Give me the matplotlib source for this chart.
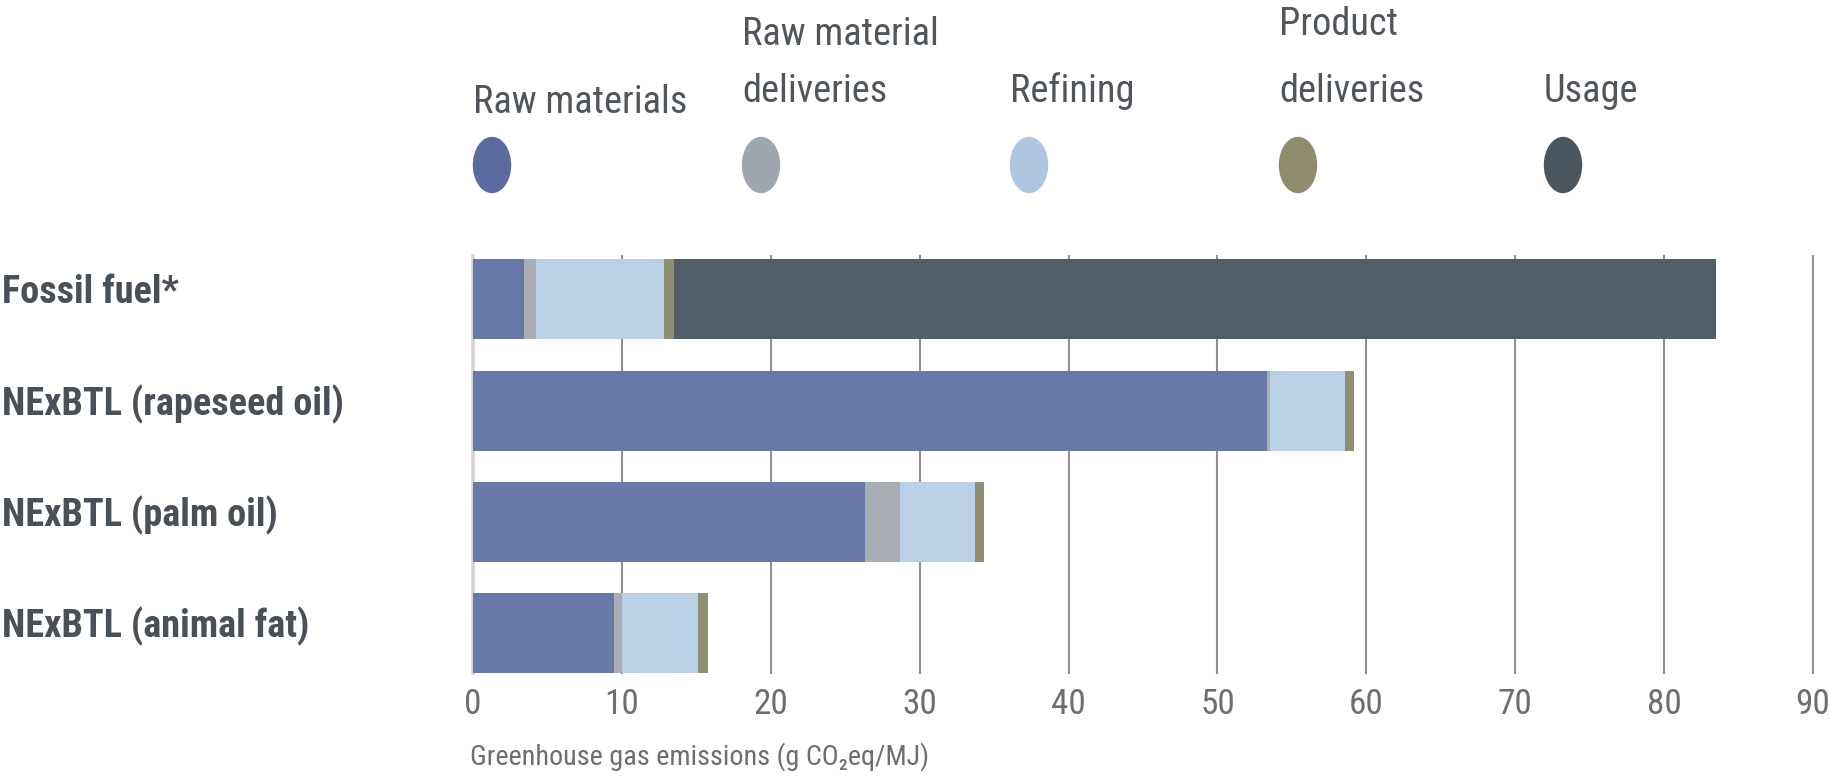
import matplotlib.pyplot as plt
import matplotlib.font_manager as fm
from matplotlib.patches import Ellipse
from matplotlib import transforms

# data (g CO2eq/MJ)
categories = ['Fossil fuel*', 'NExBTL (rapeseed oil)', 'NExBTL (palm oil)', 'NExBTL (animal fat)']
stage_labels = ['Raw materials', 'Raw material\ndeliveries', 'Refining', 'Product\ndeliveries', 'Usage']
raw_materials = [3.4, 53.3, 26.3, 9.5]
raw_material_deliveries = [0.8, 0.2, 2.4, 0.5]
refining = [8.6, 5.1, 5.0, 5.1]
product_deliveries = [0.7, 0.6, 0.6, 0.7]
usage = [70.0, 0.0, 0.0, 0.0]
x_ticks = [0, 10, 20, 30, 40, 50, 60, 70, 80, 90]
x_label = 'Greenhouse gas emissions (g CO\u2082eq/MJ)'

stage_colors = ['#6878a9', '#a8aeb4', '#b9d0e7', '#918f72', '#525e67']
legend_colors = ['#5b6b9f', '#a0a6ad', '#aec6e0', '#8f8c6e', '#4c565f']

# pick a narrow face if one is installed, else Liberation Sans
fonts = fm.fontManager.ttflist
names = {f.name for f in fonts}
stretch = 'normal'
face = 'Liberation Sans'
for cand in ['Liberation Sans Narrow', 'Roboto Condensed', 'Noto Sans Condensed', 'Open Sans Condensed']:
    if cand in names:
        face = cand
        break
else:
    if any(f.name == 'DejaVu Sans' and f.stretch == 'condensed' for f in fonts):
        face, stretch = 'DejaVu Sans', 'condensed'
plt.rcParams['font.family'] = [face, 'DejaVu Sans']
plt.rcParams['font.stretch'] = stretch

W, H = 1831, 779
fig = plt.figure(figsize=(W / 100, H / 100), dpi=100)
fig.patch.set_facecolor('white')
renderer = fig.canvas.get_renderer()


def fit_width(txt, target_px):
    w = txt.get_window_extent(renderer).width
    txt.set_fontsize(txt.get_fontsize() * target_px / w)
    return txt.get_fontsize()


# axes placed in pixel terms
ax = fig.add_axes([473 / W, 1 - 673 / H, 1340 / W, 417 / H])

series = [raw_materials, raw_material_deliveries, refining, product_deliveries, usage]
ypos = list(range(len(categories)))
left = [0.0] * len(categories)
for vals, color in zip(series, stage_colors):
    ax.barh(ypos, vals, left=left, height=0.72, color=color, zorder=3)
    left = [l + v for l, v in zip(left, vals)]

ax.set_xlim(0, 90)
ax.set_ylim(3.36, -0.39)

# vertical grid lines, the zero line lighter
for t in x_ticks:
    if t == 0:
        ax.axvline(t, color='#d3d3d3', lw=2.6, zorder=2, clip_on=False)
    else:
        ax.axvline(t, color='#8f8f8f', lw=1.5, zorder=1, clip_on=False)

for s in ax.spines.values():
    s.set_visible(False)
ax.set_yticks([])

xl = fig.text(470 / W, 1 - 757 / H, x_label, fontsize=20, color='#6e6e6e',
              ha='left', va='center')
xl_size = fit_width(xl, 459)

ax.set_xticks(x_ticks)
ax.set_xticklabels([str(t) for t in x_ticks], fontsize=xl_size * 1.25, color='#6e6e6e')
ax.tick_params(axis='x', length=0, pad=11)

# category labels at the left edge of the figure
trans = transforms.blended_transform_factory(fig.transFigure, ax.transData)
cat_texts = []
for y, cat in zip(ypos, categories):
    cat_texts.append(ax.text(2 / W, y - 0.06, cat, transform=trans, ha='left', va='center',
                             fontsize=26, fontweight='bold', color='#4a5058', clip_on=False))
cat_size = fit_width(cat_texts[1], 342)
for t in cat_texts:
    t.set_fontsize(cat_size)

# legend drawn by hand: label above, tall dot below
legend_x = [473, 742, 1010, 1279, 1544]
legend_baselines = [[113], [45, 102], [102], [35, 102], [102]]
leg_texts = []
for x, lab, bl, col in zip(legend_x, stage_labels, legend_baselines, legend_colors):
    for line, yb in zip(lab.split('\n'), bl):
        leg_texts.append(fig.text(x / W, 1 - yb / H, line, fontsize=28, color='#50565c',
                                  ha='left', va='baseline'))
    fig.add_artist(Ellipse(((x + 19) / W, 1 - 165 / H), 37 / W, 55 / H,
                           transform=fig.transFigure, color=col))
leg_size = fit_width(leg_texts[0], 214)
for t in leg_texts:
    t.set_fontsize(leg_size)

fig.savefig('out.png', dpi=100)
